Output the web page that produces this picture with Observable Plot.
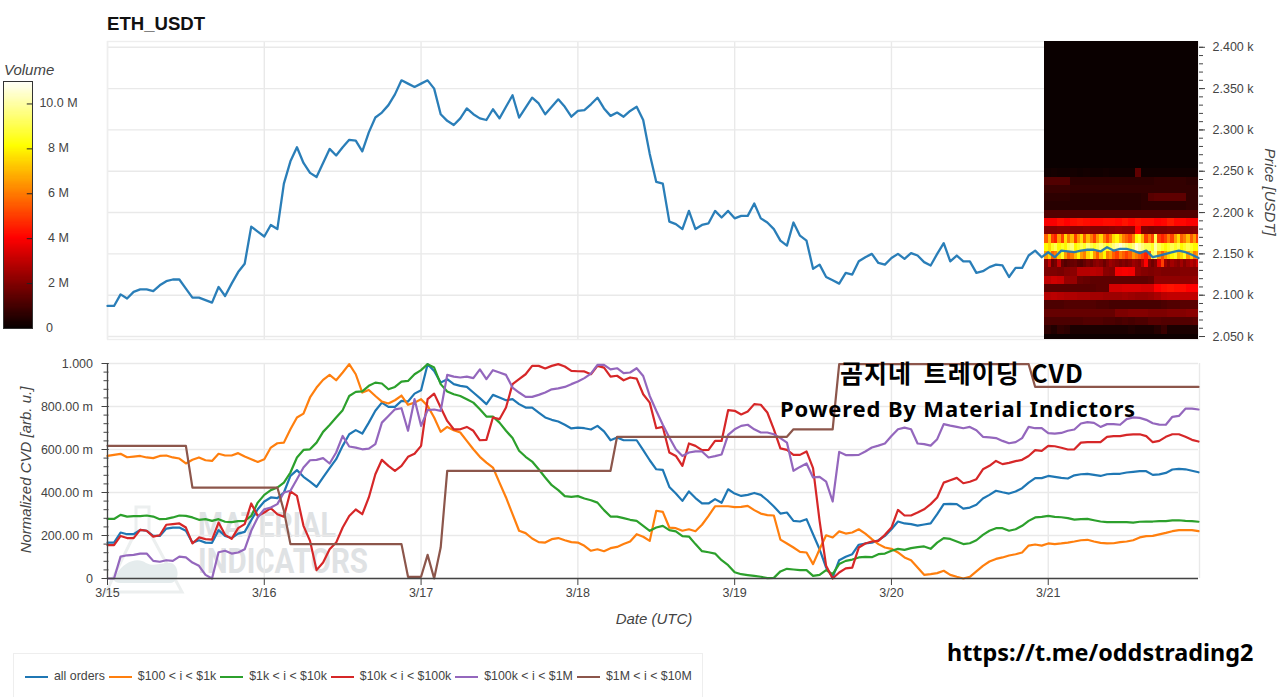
<!DOCTYPE html>
<html><head><meta charset="utf-8">
<script src="https://cdn.jsdelivr.net/npm/d3@7"></script>
<script src="https://cdn.jsdelivr.net/npm/@observablehq/plot@0.6"></script>
<style>
html,body{margin:0;padding:0;background:#fff;width:1280px;height:697px;overflow:hidden;font-family:"Liberation Sans",Arial,sans-serif}
#page{position:relative;width:1280px;height:697px;overflow:hidden}
#page svg{position:absolute;left:0}
.t{position:absolute;white-space:nowrap;line-height:1}
.ax{color:#444;font-size:15px;font-style:italic}
.big{font-family:"Noto Sans","Noto Sans CJK KR",sans-serif;font-weight:700;color:#000}
#legend{position:absolute;left:13px;top:653px;width:690px;height:60px;border:1px solid #eee;box-sizing:border-box;display:flex;align-items:flex-start;padding:15px 0 0 11px;font-size:12.37px;color:#444}
#legend i{display:inline-block;width:23px;height:2.4px;margin:7px 6px 0 0}
#legend span{margin-right:4px;white-space:nowrap}
</style></head><body><div id="page">
<svg id="mark" width="400" height="120" style="top:490px;left:100px">
  <path d="M36 17h13v24l33 61h-76l30-61z" fill="none" stroke="#ecefef" stroke-width="3"/>
  <path d="M16 85c8-14 22-18 30-12 12 6 24-6 30 4 4 8 0 16-6 16h-50c-6 0-8-4-4-8z" fill="#e5eced"/>
  <text x="98" y="47" textLength="138" lengthAdjust="spacingAndGlyphs" font-family="Roboto" font-weight="700" font-size="35" fill="#dfe2e4">MATERIAL</text>
  <text x="98" y="83" textLength="170" lengthAdjust="spacingAndGlyphs" font-family="Roboto" font-weight="700" font-size="35" fill="#dfe2e4">INDICATORS</text>
</svg>
<div id="p"></div>
<div class="t" style="left:107px;top:15px;font-size:18.6px;font-weight:700;color:#111">ETH_USDT</div>
<div class="t ax" style="left:4px;top:62px;">Volume</div>
<div class="t ax" style="left:1270px;top:192px;transform:translate(-50%,-50%) rotate(90deg)">Price [USDT]</div>
<div class="t ax" style="left:25px;top:470px;transform:translate(-50%,-50%) rotate(-90deg)">Normalized CVD [arb. u.]</div>
<div class="t ax" style="left:654px;top:611px;transform:translateX(-50%)">Date (UTC)</div>
<div class="t big" style="left:840px;top:360px;font-size:25px;letter-spacing:1px;word-spacing:5px;font-family:'Noto Sans CJK KR'">곰지네 트레이딩 CVD</div>
<div class="t big" style="left:780px;top:397px;font-size:22px;letter-spacing:.85px">Powered By Material Indictors</div>
<div class="t big" style="left:947px;top:641px;font-size:23.4px;">https://t.me/oddstrading2</div>
<div id="legend"></div>
</div>
<script>
const dayHours=[0,24,48,72,96,120,144];
const dayLabels=["3/15","3/16","3/17","3/18","3/19","3/20","3/21"];
const priceTicks=[2050,2100,2150,2200,2250,2300,2350,2400];
const cvdTicks=[0,0.2,0.4,0.6,0.8,1];
const seriesNames=["all orders","$100 < i < $1k","$1k < i < $10k","$10k < i < $100k","$100k < i < $1M","$1M < i < $10M"];
const seriesColors=["#1f77b4","#ff7f0e","#2ca02c","#d62728","#9467bd","#8c564b"];

const price=[2087,2087,2101,2096,2104,2107,2107,2105,2112,2117,2119,2119,2108,2097,2097,2094,2091,2110,2099,2114,2128,2138,2183,2177,
2171,2185,2180,2235,2262,2279,2260,2248,2243,2260,2277,2269,2279,2288,2287,2274,2297,2315,2321,2330,2343,2360,2356,2352,
2356,2360,2350,2319,2311,2306,2314,2326,2319,2314,2312,2325,2314,2328,2342,2315,2327,2339,2332,2319,2328,2337,2328,2316,
2323,2324,2331,2339,2326,2317,2321,2316,2323,2328,2312,2271,2237,2235,2189,2186,2180,2202,2180,2185,2187,2202,2194,2202,
2193,2196,2196,2211,2193,2188,2180,2166,2160,2188,2172,2166,2132,2137,2122,2118,2114,2127,2125,2141,2146,2150,2139,2137,
2145,2150,2144,2151,2148,2140,2136,2150,2163,2141,2148,2141,2141,2127,2129,2134,2137,2136,2122,2133,2133,2148,2154,2146,
2152,2146,2154,2153,2152,2154,2155,2155,2153,2158,2154,2156,2156,2154,2151,2154,2146,2148,2150,2152,2154,2152,2149,2145];

const allOrders=[167,167,214,206,206,226,222,198,198,232,237,237,222,167,178,167,166,225,198,188,209,217,271,322,
358,377,374,400,477,504,473,451,426,470,513,555,617,671,690,674,725,780,818,798,798,826,823,860,
876,997,965,911,927,904,896,891,865,839,811,854,842,829,834,811,795,795,772,749,738,730,715,698,
702,699,693,710,684,643,656,643,643,643,597,550,508,505,426,395,361,405,374,349,349,369,352,415,
395,384,389,398,389,364,335,302,307,268,265,276,206,136,51,5,85,101,113,157,163,167,178,198,
229,265,256,253,246,251,256,299,346,347,346,325,330,343,372,389,408,401,395,405,420,446,467,467,
477,473,468,465,480,485,487,482,477,485,487,487,493,496,499,499,482,484,491,507,510,508,501,494];

const from100=[570,575,580,564,567,570,563,560,570,572,563,558,535,552,563,550,547,580,572,572,583,567,555,542,
555,609,629,632,694,749,767,842,888,924,947,922,958,997,950,865,877,849,823,814,829,851,808,818,
834,803,749,682,705,690,679,640,601,566,539,516,446,377,299,222,211,186,169,167,183,188,178,169,
167,152,129,136,127,141,147,160,172,206,194,175,315,310,237,234,222,229,220,250,291,336,336,336,
332,333,338,318,302,295,293,181,163,144,124,121,67,136,201,191,219,209,214,229,209,183,160,144,
138,121,98,85,51,17,20,25,36,17,8,0,8,33,59,79,91,98,107,113,121,153,158,153,
163,160,163,167,172,178,180,172,166,163,164,169,172,178,191,197,198,205,212,220,225,225,225,220];

const from1k=[277,277,296,288,290,290,293,288,276,277,284,293,291,284,273,276,268,276,264,262,267,268,291,353,
389,411,423,446,493,563,598,601,632,682,714,749,783,849,868,870,896,911,907,880,891,916,919,950,
969,997,981,904,870,857,849,834,818,787,753,753,725,687,653,594,566,544,508,470,434,411,383,380,
383,372,364,353,318,288,288,281,273,268,245,222,237,245,225,219,197,195,160,127,122,116,85,62,
29,20,16,12,8,2,3,33,45,42,39,39,12,17,39,20,67,82,88,98,101,99,113,116,
129,138,133,141,146,149,138,167,188,184,172,160,164,178,203,222,234,234,222,229,245,268,284,287,
291,287,285,281,274,276,277,271,265,262,262,262,262,260,264,265,265,267,267,270,271,268,267,264];

const from10k=[155,155,198,188,188,226,222,195,201,250,253,256,237,163,191,183,181,260,203,184,234,253,349,291,
307,327,299,287,405,384,245,175,39,74,136,167,237,291,321,299,377,485,552,524,501,524,566,580,
617,834,860,795,733,694,694,705,687,643,645,749,741,795,904,927,950,989,989,977,989,997,986,966,
964,963,950,989,981,939,943,922,935,930,857,818,699,705,586,570,524,628,617,597,598,640,640,783,
780,763,777,811,808,772,694,605,598,575,575,591,513,268,59,0,28,47,51,144,163,172,175,203,
237,319,293,293,307,322,346,377,446,457,468,443,450,462,508,524,547,532,538,546,552,570,597,594,
617,615,608,600,601,632,634,634,634,659,662,662,668,670,671,662,634,640,659,671,671,659,645,637];

const from100k=[0,0,102,108,110,116,116,82,78,85,82,102,98,74,59,17,0,122,129,116,121,136,222,284,
322,330,346,400,408,462,516,550,552,560,535,586,663,614,609,601,604,625,725,756,787,792,687,834,
710,783,786,780,947,939,935,939,932,973,927,969,958,947,888,865,845,845,854,865,880,884,891,904,
916,932,953,994,994,973,978,955,958,978,942,849,780,715,656,601,570,586,591,591,563,569,577,668,
694,710,715,694,679,679,671,653,632,501,519,535,470,473,451,358,589,574,574,575,591,609,618,628,
663,694,702,694,628,625,618,648,718,711,705,699,705,690,659,656,653,640,629,634,653,705,699,699,
676,674,677,687,693,721,727,724,705,718,718,715,741,749,747,738,722,716,715,752,756,790,790,786];

const from1MHours=[0,12,13,26,27,28,45,46,48,49,50,51,52,77,78,104,105,111,112,141,142,167];
const from1MValues=[617,617,423,423,315,160,160,8,8,110,0,144,501,501,659,659,694,694,997,997,891,891];

// Volume per price bin (millions); each row spans 10 USDT, low bin edge listed in heatEdges
const heatEdges=[2043,2053,2063,2073,2083,2093,2103,2113,2123,2133,2143,2153,2163,2173,2183,2193,2203,2213,2223,2233,2243,2253];
const heatRows=[
[.1,.1,.1,.1,.1,.1,.1,.1,.1,.1,.1,.1,.1,.1,.1,.1,.1,.1,.1,.1,.1,.1,.1,.1],
[.6,.4,.7,.6,.3,.3,.3,.3,.3,.3,.3,.3,.3,.4,.3,.3,.3,.5,.8,.3,.3,.3,.3,.3],
[1.1,1.1,1.1,1.1,1.1,1.1,1.2,1.2,1.2,1.1,1.1,1,1.1,1,1.1,1.1,1.3,1.3,1.2,1.2,1.2,1.2,1.2,1.3],
[1.5,1.5,1.5,1.5,1.5,1.5,1.5,1.5,1.5,1.5,1.5,1.9,1.9,2,2,2,1.9,1.9,1.9,2,2,2,2.1,2.1],
[1.1,1.1,1.1,1.2,1.2,1.2,1.2,1.2,1.1,1.1,1,1,1,1,1,1,1,1,1.1,1.2,1.2,1.3,1.3,1.3],
[2.8,2.9,2.8,2.7,2.7,2.6,2.6,2.5,2.5,2.4,2.4,2.4,2.5,2.4,2.3,2.3,2.4,2.6,2.9,3,3,3,3,3],
[1.3,1.3,1.3,1.3,1.3,1.3,1.3,1.3,1.4,1.4,3.3,3.3,3.4,3.4,3.4,3.3,3.3,4,4.2,4.3,4.2,4.2,4,4],
[3,3.2,3.1,2.3,2.3,1.6,1.5,1.4,1.4,1.4,1.4,1.4,1.4,1.4,1.4,1.4,1.5,2.2,2.2,2.2,2.2,2.2,2.2,2.3],
[1.9,1.9,1.8,2,2.1,2.8,2.8,2.9,2.8,2.1,2,3.8,3.9,3.8,2.2,2,1.9,2,1.9,1.9,1.9,2,2,2],
[2,3,1.5,1.8,3,1.5,1.2,1.4,1.5,1.6,1.3,1.2,1.5,1.8,1.6,2,2.2,2,1.6,2,2.4,2.2,2,1.8,2,1.8,2,2.4,2.2,2,2.8,4,2,1.6,2,3.5,5,2.5,2,2.5,2.2,2,2.5,2,2.4,2.8,2.5,3.2],
[6.5,7.5,5.5,6,7.5,8.5,6.5,5.5,6,7,8,6.5,6,7.5,8.5,6.5,5.5,7,8,6,6.5,5.5,5,6,5.5,5,5.5,6.5,6,5.5,5,4.5,5.5,9,9.5,6.5,5.5,6.5,7.5,8,8.5,7,7.5,8.5,6.5,7.5,6,6.5],
[8,7.5,8.5,9,8,8.5,8,9,9.5,8,8.5,9,8.5,9.5,9,8.5,9,9.5,9,8.5,9,9.5,10,10.5,10,9.5,9,9.5,10.5,10,9.5,9,9,8.5,10,9,8.5,8,8.5,9,8.5,9,8,8.5,9,8.5,8,8],
[5.5,7,5,4.5,6.5,5,7.5,6,7,5,6.5,7.5,5.5,7,6,5,6.5,7.5,6,5,6,7.5,8,7,6,5.5,5,6,8,8.5,7,5,6,5,9,5,4.5,5,6,5,6.5,7.5,5.5,6,7,5.5,6.5,5],
[2,2,2.1,2.1,2,2,2.1,2,2,2,2.1,2.2,2.1,2.1,4,1.9,1.8,1.9,1.9,2,2,2,2,2.1],
[3.9,3.9,4.2,4,4.2,4.3,4.2,4.1,4.1,4.2,4.2,4.1,4.3,4.1,4.3,4.2,4.2,4,4.1,4.4,4.1,4.1,3.9,3.9],
[1.2,1.2,1.2,1.2,1.2,1.2,1.2,1.2,1.2,1.2,1.2,1.2,1.2,1.2,1.2,1.2,1.2,1.2,1.2,1.2,1.2,1.2,1.2,1.2],
[.5,.5,.5,.5,.5,.5,.5,.5,.5,.5,.5,.5,.5,.5,.5,.6,.6,.6,.6,.6,.6,.6,.7,.7],
[.6,.6,.6,.6,.5,.5,.5,.5,.5,.5,.5,.5,.5,.5,.5,.6,1.3,1.4,1.4,1.4,1.4,1.4,.7,.7],
[.8,.8,.8,.8,.7,.7,.7,.7,.7,.7,.7,.7,.7,.7,.7,.7,.7,.7,.7,.7,.7,.7,.7,.7],
[1.2,1.2,1.2,1.2,.6,.6,.6,.6,.6,.6,.6,.6,.6,.6,.6,.6,.6,.7,.7,.7,.7,.7,.6,.6],
[.15,.2,.15,.15,.2,.15,.2,.15,.15,.2,.15,.15,.15,.15,1.4,.15,.15,.15,.15,.15,.15,.15,.15,.15],
[.04]
];
const heatStart=143.5, heatEnd=167.2, heatTop=2407;
const volumeTicks=[2,4,6,8,10];

const hotScale={type:"linear",domain:[0,4,8.1,11],range:["#080000","#ff0000","#ffff00","#ffffff"],interpolate:"rgb",clamp:true};

const heatCells=heatRows.flatMap((row,r)=>row.map((v,i)=>({
  x1:heatStart+(heatEnd-heatStart)*i/row.length,
  x2:heatStart+(heatEnd-heatStart)*(i+1)/row.length,
  y1:heatEdges[r],
  y2:r+1<heatEdges.length?heatEdges[r+1]:heatTop,
  v})));

const priceRows=price.map((v,i)=>({hour:i,v}));
const cvdArrays=[allOrders,from100,from1k,from10k,from100k];
const cvdRows=cvdArrays.flatMap((arr,k)=>arr.map((v,i)=>({hour:i,v:v/1000,name:seriesNames[k]})))
  .concat(from1MHours.map((h,i)=>({hour:h,v:from1MValues[i]/1000,name:seriesNames[5]})));

const base={width:1280,marginLeft:107,marginRight:82,style:{fontFamily:"'Liberation Sans',Arial,sans-serif",fontSize:"12.5px",color:"#444",background:"transparent",overflow:"visible"}};
const gridC="#e9e9e9";

const pricePanel=Plot.plot({...base,height:345,marginTop:41,marginBottom:6,
  x:{domain:[0,167],axis:null},
  y:{domain:[2046.4,heatTop],axis:null},
  color:hotScale,
  marks:[
    Plot.ruleY(priceTicks,{stroke:gridC,strokeWidth:1.4}),
    Plot.ruleX(dayHours,{stroke:gridC,strokeWidth:1.4}),
    Plot.frame({stroke:"#eee",strokeWidth:1.4}),
    Plot.rect(heatCells,{x1:"x1",x2:"x2",y1:"y1",y2:"y2",fill:"v",clip:true,shapeRendering:"crispEdges",imageFilter:"blur(0.5px)"}),
    Plot.line(priceRows,{x:"hour",y:"v",stroke:"#1f77b4",strokeWidth:2.3,strokeLinejoin:"round",strokeOpacity:.95}),
    Plot.axisY(d3.range(2050,2410,10),{anchor:"right",tickSize:4,fill:"none",stroke:"#444",label:null}),
    Plot.axisY(priceTicks,{anchor:"right",tickSize:6,tickPadding:8,stroke:"#444",fill:"#444",label:null,tickFormat:d=>(d/1000).toFixed(3)+" k"})
  ]});
pricePanel.style.top="0px";

const cvdPanel=Plot.plot({...base,height:260,marginTop:13,marginBottom:32,
  x:{domain:[0,167],axis:null},
  y:{domain:[0,1],axis:null},
  color:{domain:seriesNames,range:seriesColors},
  marks:[
    Plot.ruleY(cvdTicks,{stroke:gridC,strokeWidth:1.4}),
    Plot.ruleX(dayHours,{stroke:gridC,strokeWidth:1.4}),
    Plot.ruleX([167],{stroke:gridC,strokeWidth:1.4,dx:1}),
    Plot.line(cvdRows,{x:"hour",y:"v",z:"name",stroke:"name",strokeWidth:2.2,strokeLinejoin:"round"}),
    Plot.ruleY([0],{stroke:"#444",strokeWidth:1.3}),
    Plot.ruleX([0],{stroke:"#444",strokeWidth:1.3}),
    Plot.axisY(d3.range(0,1.001,0.04),{anchor:"left",tickSize:5,fill:"none",stroke:"#444",label:null,dx:1.5}),
    Plot.axisY(cvdTicks,{anchor:"left",tickSize:7,tickPadding:9,stroke:"#444",fill:"#444",label:null,dx:1.5,tickFormat:d=>d===0?"0":d===1?"1.000":(d*1000).toFixed(2)+" m"}),
    Plot.axisX(dayHours,{anchor:"bottom",tickSize:7,tickPadding:3,stroke:"#444",fill:"#444",label:null,tickFormat:d=>dayLabels[dayHours.indexOf(d)]})
  ]});
cvdPanel.style.top="350px";

const cbarSteps=d3.range(0,11,0.05);
const cbar=Plot.plot({width:100,height:280,marginLeft:3,marginRight:68,marginTop:21,marginBottom:12,
  style:{fontFamily:"'Liberation Sans',Arial,sans-serif",fontSize:"12.5px",color:"#444",background:"transparent",overflow:"visible"},
  x:{domain:[0,1],axis:null},
  y:{domain:[0,11],axis:null},
  color:hotScale,
  marks:[
    Plot.rect(cbarSteps,{x1:0,x2:1,y1:d=>d,y2:d=>d+0.05,fill:d=>d,shapeRendering:"crispEdges"}),
    Plot.ruleY(volumeTicks,{x1:0.82,x2:1,stroke:"#222"}),
    Plot.frame({stroke:"#333"}),
    Plot.text(volumeTicks,{y:d=>d,frameAnchor:"right",dx:26,dy:-1,textAnchor:"middle",fill:"#444",text:d=>d===10?"10.0 M":d+" M"}),
    Plot.text([0],{y:d=>d,frameAnchor:"right",dx:17,dy:-1,textAnchor:"middle",fill:"#444",text:d=>"0"})
  ]});
cbar.style.top="60px";

document.getElementById("p").append(cbar,pricePanel,cvdPanel);

const lg=document.getElementById("legend");
seriesNames.forEach((n,i)=>{
  const sw=document.createElement("i");sw.style.background=seriesColors[i];
  const tx=document.createElement("span");tx.textContent=n;
  lg.append(sw,tx);
});
</script></body></html>
